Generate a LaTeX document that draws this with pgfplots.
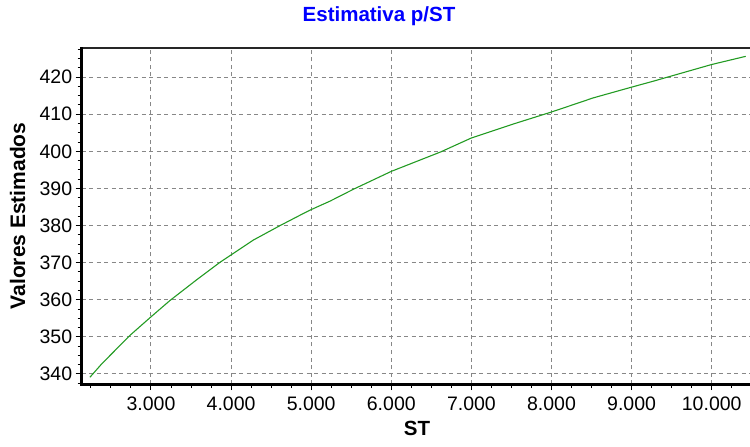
\documentclass[border=0pt]{standalone}
\usepackage{fontspec}
\setmainfont{Liberation Sans}
\usepackage{pgfplots}
\pgfplotsset{compat=1.18}
\definecolor{curvegreen}{RGB}{35,155,35}
\definecolor{gridgray}{RGB}{135,135,135}
\definecolor{titleblue}{RGB}{0,0,255}
\pgfplotstableread{
x y
2237 339.1
2384 342.7
2737 350.4
3000 355.4
3237 359.8
3571 365.4
3862 370.1
4000 372.1
4279 376.1
4612 380.0
4862 382.8
5000 384.3
5237 386.6
5529 389.8
6000 394.6
6612 399.8
7000 403.6
7362 406.2
7529 407.4
8000 410.6
8521 414.4
9000 417.3
9271 418.9
10000 423.4
10425 425.6
}\datatable
\begin{document}
\begin{tikzpicture}
\begin{axis}[
  scale only axis, width=668.3pt, height=336.2pt,
  xmin=2135, xmax=10478, ymin=337.3, ymax=427.9,
  xtick={3000,4000,...,10000},
  ytick={340,350,...,420},
  minor xtick={2250,2500,...,10250},
  minor ytick={337.5,340,...,427.5},
  xtick pos=bottom, ytick pos=left,
  tick align=outside,
  major tick length=6pt, minor tick length=4pt,
  tick style={black, line width=1pt},
  grid=major,
  major grid style={gridgray, dash pattern=on 4pt off 3.5pt, line width=1pt},
  axis line style={draw=none},
  /pgf/number format/assume math mode=true,
  xticklabel style={/pgf/number format/1000 sep={.}, font=\fontsize{19.5}{22}\selectfont, yshift=-3pt},
  yticklabel style={font=\fontsize{19.5}{22}\selectfont},
  scaled x ticks=false,
  title={Estimativa p/ST},
  title style={at={(axis description cs:0.4449,1)}, anchor=base, yshift=19.8pt,
    font=\fontsize{20.5}{24}\selectfont\bfseries, text=titleblue},
  xlabel={ST},
  xlabel style={at={(axis description cs:0.5017,-0.1517)}, anchor=base,
    font=\fontsize{20.5}{24}\selectfont\bfseries},
  ylabel={Valores Estimados},
  ylabel style={at={(axis description cs:-0.0848,0.5)}, anchor=base, rotate=0,
    font=\fontsize{21}{24}\selectfont\bfseries},
]
\addplot[curvegreen, line width=1.1pt, mark=none] table[x=x, y=y] {\datatable};
\coordinate (bl) at (rel axis cs:0,0);
\coordinate (tr) at (rel axis cs:1,1);
\coordinate (tl) at (rel axis cs:0,1);
\coordinate (br) at (rel axis cs:1,0);
\end{axis}
\draw[black!85, line width=1.5pt] (tl) -- (tr);
\draw[black, line width=3pt] ([yshift=-1.5pt]bl) -- ([yshift=1pt]tl);
\draw[black, line width=3pt] ([xshift=-1.5pt]bl) -- (br);
\pgfresetboundingbox
\path ([shift={(-81.7pt,-62pt)}]bl) rectangle ([shift={(0pt,47.8pt)}]tr);
\end{tikzpicture}
\end{document}
